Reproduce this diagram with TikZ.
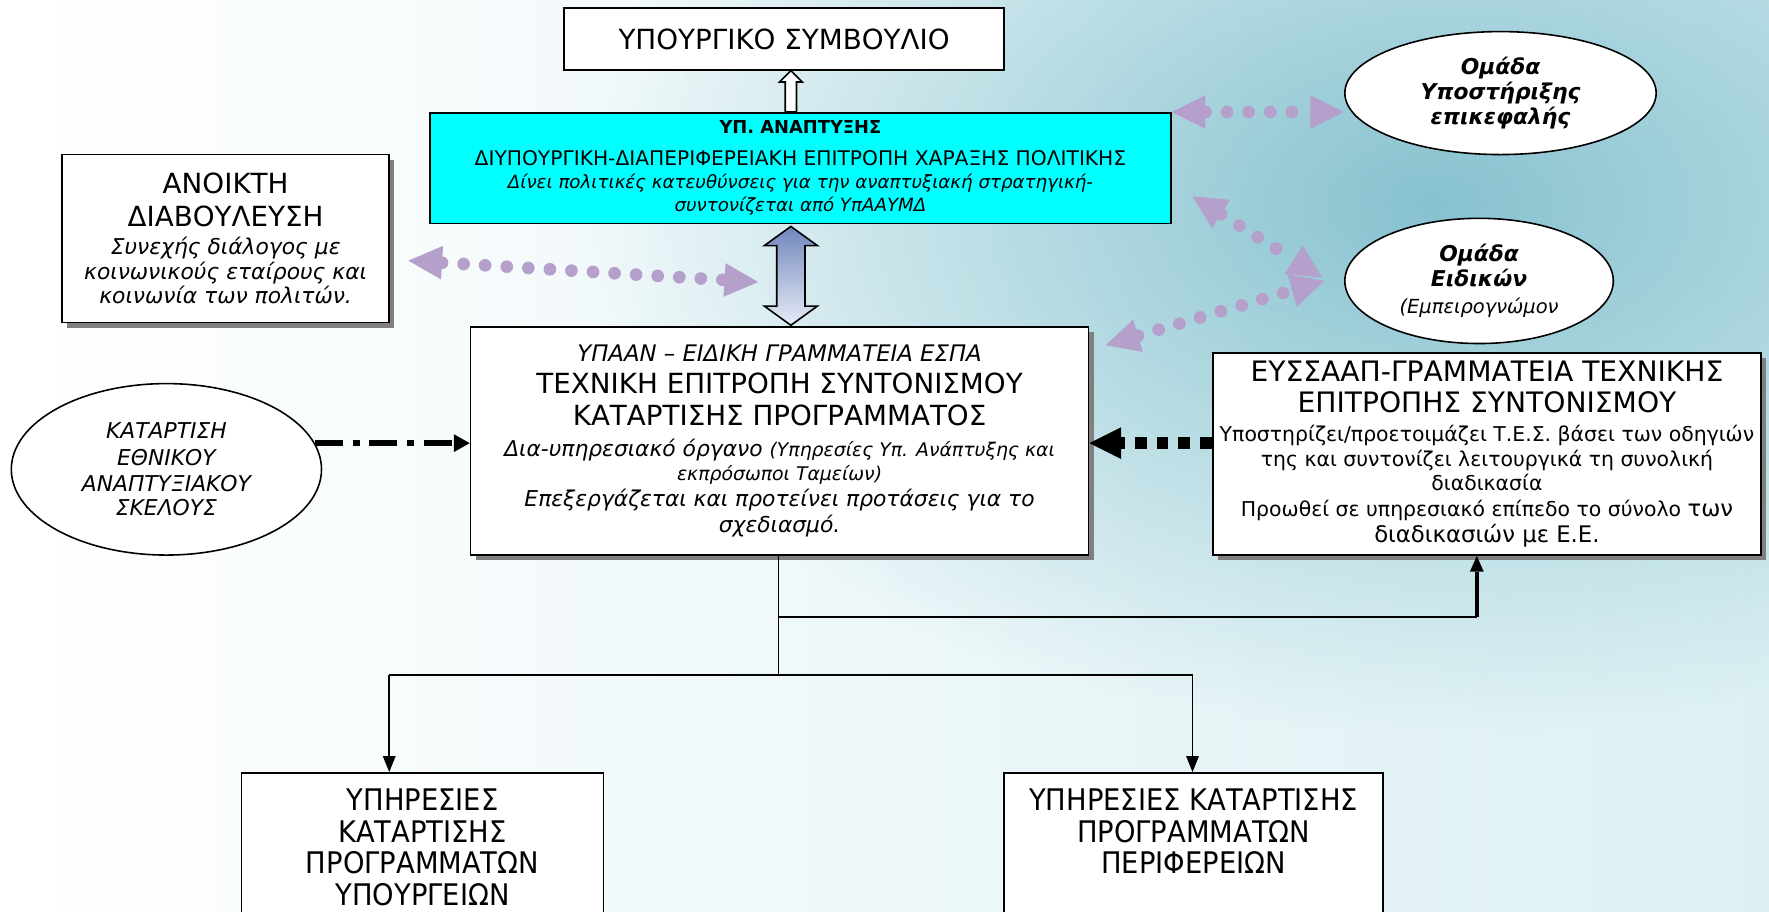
\documentclass[tikz,border=0pt]{standalone}
\usepackage{fontspec}
\setmainfont{DejaVu Sans}
\newfontfamily\condFont[FakeStretch=0.92]{DejaVu Sans}
\usetikzlibrary{arrows.meta,calc,fadings,shadows,shapes.geometric}
\definecolor{cyanFill}{RGB}{0,255,255}
\definecolor{lavender}{RGB}{180,160,203}
\definecolor{shadowGrey}{RGB}{128,128,128}
\definecolor{bgCyan}{RGB}{196,236,240}
\definecolor{bgPale}{RGB}{220,240,243}
\definecolor{bgTeal}{RGB}{112,182,198}
\definecolor{arrowTop}{RGB}{112,134,188}
\definecolor{arrowBottom}{RGB}{232,236,248}
\newcommand{\sz}[2]{\fontsize{#1}{#2}\selectfont}
\newcommand{\noteFont}{\itshape\sz{11}{12.5}}
\newcommand{\smallNote}{\itshape\sz{9.5}{12.5}}
\newcommand{\boldOval}{\bfseries\itshape\sz{11}{12}}
\newcommand{\eyNote}{\sz{10.3}{12}}
\tikzfading[name=glowFade, inner color=transparent!20, outer color=transparent!100]
\newcommand{\myBackground}{%%
  %% Pale wash over the whole slide.
  \shade[left color=white, middle color=bgCyan, right color=bgPale]
    (0,0) rectangle (1568,808);
  %% Darker glow behind the two working groups.
  \fill[bgTeal, path fading=glowFade] (1270,180) ellipse [x radius=760, y radius=470];
}
\newcommand{\myBlockArrows}{%%
  %% Hollow arrow from the committee up to the council.
  \draw[blockStyle, fill=white]
    ($(upFoot)+(-5,0)$) -- ($(upTip)+(-5,10)$) -- ($(upTip)+(-10,10)$) -- (upTip)
    -- ($(upTip)+(10,10)$) -- ($(upTip)+(5,10)$) -- ($(upFoot)+(5,0)$) -- cycle;
  %% Shaded two-way arrow between the committee and the technical committee.
  \draw[blockStyle, top color=arrowTop, bottom color=arrowBottom]
    (dblTop) -- ($(dblTop)+(23.5,17)$) -- ($(dblTop)+(12.5,17)$)
    -- ($(dblBot)+(12.5,-17)$) -- ($(dblBot)+(23.5,-17)$) -- (dblBot)
    -- ($(dblBot)+(-23.5,-17)$) -- ($(dblBot)+(-12.5,-17)$)
    -- ($(dblTop)+(-12.5,17)$) -- ($(dblTop)+(-23.5,17)$) -- cycle;
}

\begin{document}
\begin{tikzpicture}[x=0.02cm, y=-0.02cm,
  boxStyle/.style={draw=black, line width=0.8pt, fill=white, align=center, inner sep=0pt},
  shadowBoxStyle/.style={boxStyle, drop shadow={shadow xshift=2.6pt, shadow yshift=-2.6pt, fill=shadowGrey, opacity=1}},
  ovalStyle/.style={ellipse, draw=black, line width=0.8pt, fill=white, align=center, inner sep=0pt},
  blockStyle/.style={draw=black, line width=0.8pt, line join=miter},
  dotArrowStyle/.style={draw=lavender, line width=6.4pt, line cap=round, dash pattern=on 0pt off 10.9pt,
    {Triangle[length=17pt,width=17pt,line width=0pt]}-{Triangle[length=17pt,width=17pt,line width=0pt]}},
  dashDotStyle/.style={draw=black, line width=3pt, dash pattern=on 14pt off 5pt on 3.5pt off 5pt,
    -{Triangle[length=8pt,width=9pt,line width=0pt]}},
  squareDotStyle/.style={draw=black, line width=6pt, dash pattern=on 6pt off 5pt,
    -{Triangle[length=16pt,width=16pt,line width=0pt]}},
  thinLineStyle/.style={draw=black, line width=0.9pt},
  thinArrowStyle/.style={thinLineStyle, -{Triangle[length=8pt,width=6.5pt,line width=0pt]}},
  thickArrowStyle/.style={draw=black, line width=1.7pt, -{Triangle[length=8pt,width=7pt,line width=0pt]}}
]
\useasboundingbox (0,0) rectangle (1568,808);
\clip (0,0) rectangle (1568,808);
\myBackground
%%
%% The boxes.
\node[boxStyle, minimum width=7.8cm, minimum height=1.1cm, font=\sz{14}{14}] (council)
  at (695,34.5) {ΥΠΟΥΡΓΙΚΟ ΣΥΜΒΟΥΛΙΟ};
\node[boxStyle, fill=cyanFill, minimum width=13.14cm, minimum height=1.96cm, font=\sz{10.2}{11.6}] (anaptyxi)
  at (709.5,149) {\bfseries\sz{9}{10}ΥΠ. ΑΝΑΠΤΥΞΗΣ\\[4.5pt]
  ΔΙΥΠΟΥΡΓΙΚΗ-ΔΙΑΠΕΡΙΦΕΡΕΙΑΚΗ ΕΠΙΤΡΟΠΗ ΧΑΡΑΞΗΣ ΠΟΛΙΤΙΚΗΣ\\
  \itshape\sz{9.2}{10}Δίνει πολιτικές κατευθύνσεις για την αναπτυξιακή στρατηγική-\\
  \itshape\sz{9.2}{10}συντονίζεται από ΥπΑΑΥΜΔ};
\node[shadowBoxStyle, minimum width=5.8cm, minimum height=2.98cm, font=\sz{14}{12}] (consult)
  at (200,211.5) {ΑΝΟΙΚΤΗ\\[4.5pt]
  ΔΙΑΒΟΥΛΕΥΣΗ\\[2.2pt]
  \itshape\sz{11}{12}Συνεχής διάλογος με\\[0.5pt]
  \itshape\sz{11}{12}κοινωνικούς εταίρους και\\
  \itshape\sz{11}{12}κοινωνία των πολιτών.};
\node[ovalStyle, minimum width=5.52cm, minimum height=2.18cm, font=\bfseries\itshape\sz{11}{12.6}] (omada1)
  at (1330,82.5) {Ομάδα\\Υποστήριξης\\επικεφαλής};
\node[ovalStyle, minimum width=4.76cm, minimum height=2.22cm, font=\sz{11}{12}] (omada2)
  at (1311,249) {\boldOval Ομάδα\\[0.9pt]
  \boldOval Ειδικών\\[1.7pt]
  \itshape\sz{9.8}{12}(Εμπειρογνώμον};
\node[shadowBoxStyle, minimum width=10.96cm, minimum height=4.04cm, font=\sz{14}{12.5}] (tech)
  at (691,391) {\itshape\sz{11.5}{12.5}ΥΠΑΑΝ – ΕΙΔΙΚΗ ΓΡΑΜΜΑΤΕΙΑ ΕΣΠΑ\\[3.5pt]
  ΤΕΧΝΙΚΗ ΕΠΙΤΡΟΠΗ ΣΥΝΤΟΝΙΣΜΟΥ\\[3.5pt]
  ΚΑΤΑΡΤΙΣΗΣ ΠΡΟΓΡΑΜΜΑΤΟΣ\\[3pt]
  \noteFont Δια-υπηρεσιακό όργανο {\sz{9.5}{12.5}(Υπηρεσίες Υπ. Ανάπτυξης και}\\
  \smallNote εκπρόσωποι Ταμείων)\\[0.5pt]
  \noteFont Επεξεργάζεται και προτείνει προτάσεις για το\\[0.5pt]
  \noteFont σχεδιασμό.};
\node[ovalStyle, minimum width=5.5cm, minimum height=3.04cm, font=\itshape\sz{11}{12}] (ethniko)
  at (147.5,416) {ΚΑΤΑΡΤΙΣΗ\\[1.5pt]ΕΘΝΙΚΟΥ\\[1pt]ΑΝΑΠΤΥΞΙΑΚΟΥ\\ΣΚΕΛΟΥΣ};
\node[shadowBoxStyle, minimum width=9.72cm, minimum height=3.58cm, font=\sz{14.2}{12}] (eyssaap)
  at (1318,402.5) {ΕΥΣΣΑΑΠ-ΓΡΑΜΜΑΤΕΙΑ ΤΕΧΝΙΚΗΣ\\[4pt]
  ΕΠΙΤΡΟΠΗΣ ΣΥΝΤΟΝΙΣΜΟΥ\\[2.4pt]
  \eyNote Υποστηρίζει/προετοιμάζει Τ.Ε.Σ. βάσει των οδηγιών\\[0.5pt]
  \eyNote της και συντονίζει λειτουργικά τη συνολική\\
  \eyNote διαδικασία\\[1.6pt]
  \eyNote Προωθεί σε υπηρεσιακό επίπεδο το σύνολο {\sz{11.5}{12}των}\\[1pt]
  \sz{11.5}{12}διαδικασιών με Ε.Ε.};
\node[boxStyle, minimum width=6.42cm, minimum height=2.64cm, font=\condFont\sz{15}{16}] (ypourgeia)
  at (374.5,751) {ΥΠΗΡΕΣΙΕΣ\\ΚΑΤΑΡΤΙΣΗΣ\\ΠΡΟΓΡΑΜΜΑΤΩΝ\\ΥΠΟΥΡΓΕΙΩΝ};
\node[boxStyle, minimum width=6.72cm, minimum height=2.64cm, font=\condFont\sz{15}{16}] (perifereies)
  at (1058,751) {ΥΠΗΡΕΣΙΕΣ ΚΑΤΑΡΤΙΣΗΣ\\ΠΡΟΓΡΑΜΜΑΤΩΝ\\ΠΕΡΙΦΕΡΕΙΩΝ\\\phantom{Ι}};
%%
%% Points the connectors need.
\coordinate (axis) at (701,0);
\coordinate (upFoot) at (anaptyxi.north -| axis);
\coordinate (upTip) at (council.south -| axis);
\coordinate (dblTop) at ($(anaptyxi.south -| axis)+(0,2)$);
\coordinate (dblBot) at ($(tech.north -| axis)+(0,-1)$);
\coordinate (consultTip) at (362,231);
\coordinate (dblTip) at (672,250);
\coordinate (anaTip) at (1057,174);
\coordinate (techTip) at (980,306);
\coordinate (omadaTipA) at (1172,246);
\coordinate (omadaTipB) at (1174,249);
\coordinate (branchMid) at (690,547);
\coordinate (branchEy) at (1309,547);
\coordinate (forkMid) at (690,598);
\coordinate (forkLeft) at (345,598);
\coordinate (forkRight) at (1057,598);
%%
%% Block arrows above and below the committee.
\myBlockArrows
%%
%% Dotted two-way links.
\draw[dotArrowStyle] (consultTip) -- (dblTip);
\draw[dotArrowStyle] (anaptyxi.north east) -- (anaptyxi.north east -| omada1.west);
\draw[dotArrowStyle] (anaTip) -- (omadaTipA);
\draw[dotArrowStyle] (techTip) -- (omadaTipB);
%%
%% Links into the technical committee.
\draw[dashDotStyle] (ethniko.10) -- (tech.west |- ethniko.10);
\draw[squareDotStyle] (eyssaap.west |- ethniko.10) -- (tech.east |- ethniko.10);
%%
%% Tree below the technical committee.
\draw[thinLineStyle] (tech.south -| forkMid) -- (forkMid);
\draw[thinLineStyle] (branchMid) -- (branchEy);
\draw[thickArrowStyle] (branchEy) -- (branchEy |- eyssaap.south);
\draw[thinLineStyle] (forkLeft) -- (forkRight);
\draw[thinArrowStyle] (forkLeft) -- (forkLeft |- ypourgeia.north);
\draw[thinArrowStyle] (forkRight) -- (forkRight |- perifereies.north);

\end{tikzpicture}
\end{document}
